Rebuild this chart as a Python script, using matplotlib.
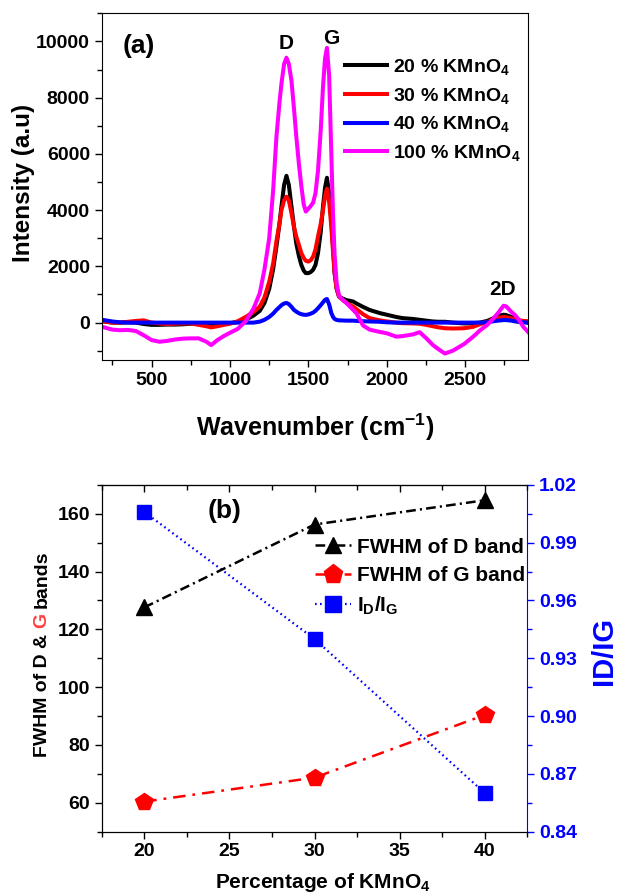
import matplotlib
matplotlib.use('Agg')
import matplotlib.pyplot as plt
from matplotlib.ticker import MultipleLocator, FixedLocator

plt.rcParams['font.family'] = ['Liberation Sans', 'DejaVu Sans']
plt.rcParams['font.weight'] = 'bold'
plt.rcParams['mathtext.fontset'] = 'custom'
plt.rcParams['mathtext.rm'] = 'Liberation Sans:bold'
plt.rcParams['mathtext.it'] = 'Liberation Sans:bold'
plt.rcParams['mathtext.bf'] = 'Liberation Sans:bold'
plt.rcParams['mathtext.default'] = 'regular'
plt.rcParams['lines.scale_dashes'] = False

# ---------------- Panel (a): Raman spectra ----------------
wavenumber = [185, 250, 300, 350, 400, 450, 500, 550, 600, 650, 700, 750, 800, 850, 880, 920, 960,
              1000, 1050, 1100, 1150, 1190, 1220, 1250, 1275, 1296, 1315, 1328, 1345, 1360, 1375,
              1392, 1408, 1423, 1440, 1455, 1470, 1483, 1500, 1515, 1530, 1545, 1561, 1578, 1593,
              1606, 1618, 1632, 1646, 1657, 1667, 1680, 1695, 1720, 1742, 1785, 1806, 1848, 1890,
              1954, 2000, 2060, 2100, 2166, 2209, 2250, 2294, 2330, 2370, 2420, 2493, 2550, 2593,
              2640, 2669, 2710, 2744, 2760, 2794, 2820, 2844, 2870, 2900]

int_20 = [50, 0, 0, 10, 0, -50, -80, -80, -70, -70, -60, -40, -50, -60, -70, -60, -40,
          -20, 20, 100, 250, 420, 700, 1200, 1900, 2700, 3500, 4130, 4900, 5220, 4900,
          4130, 3400, 2800, 2350, 2050, 1850, 1760, 1760, 1800, 1880, 2050, 2470, 3200, 4130,
          4800, 5150, 4600, 3650, 2700, 1760, 1200, 925, 850, 800, 750, 680, 560, 450,
          340, 280, 200, 160, 130, 100, 70, 40, 30, 30, 0, -30, -20, 0,
          60, 130, 240, 280, 270, 200, 140, 80, 30, 0]

int_30 = [50, 0, 0, 30, 60, 80, 0, -30, -50, -40, -30, -30, -80, -130, -170, -130, -80,
          -40, 50, 200, 380, 570, 900, 1450, 2100, 2900, 3500, 4000, 4350, 4480, 4350,
          3890, 3400, 3050, 2750, 2470, 2300, 2200, 2170, 2220, 2350, 2600, 3060, 3500, 4000,
          4500, 4760, 4300, 3400, 2500, 1760, 1200, 925, 800, 700, 570, 480, 300, 160,
          80, 40, 0, -20, -30, -40, -80, -130, -170, -200, -210, -200, -150, -60,
          20, 90, 160, 200, 190, 150, 110, 80, 60, 50]

int_40 = [100, 40, 10, 0, 0, 0, 0, 0, 0, 0, 0, 0, 0, 0, 0, 0, 0,
          0, 0, 0, 0, 35, 100, 200, 320, 450, 550, 620, 680, 700, 660,
          560, 450, 390, 330, 300, 280, 275, 290, 320, 355, 420, 510, 620, 720,
          810, 840, 650, 340, 200, 130, 95, 80, 75, 70, 70, 60, 50, 40,
          30, 10, 0, 0, 0, 0, 0, 0, 0, 0, 0, 0, 0, 0,
          10, 40, 70, 90, 90, 70, 40, 20, 10, 0]

int_100 = [-150, -250, -270, -260, -300, -450, -620, -680, -650, -600, -570, -560, -560, -680, -800, -620, -480,
           -360, -220, 50, 500, 1050, 1900, 3000, 4700, 6600, 7800, 8500, 9200, 9420, 9200,
           8600, 7600, 6600, 5600, 4850, 4200, 3950, 4050, 4150, 4270, 4600, 5400, 6800, 8400,
           9400, 9770, 8800, 6000, 3800, 2400, 1400, 950, 800, 700, 450, 330, -100, -250,
           -330, -380, -500, -480, -420, -340, -550, -800, -950, -1100, -1000, -760, -500, -280,
           -80, 80, 350, 600, 580, 380, 250, 80, -150, -330]

series_labels_a = ['20 % KMnO$_4$', '30 % KMnO$_4$', '40 % KMnO$_4$', '100 % KMnO$_4$']
series_colors_a = ['black', '#ff0000', '#0000ff', '#ff00ff']

# ---------------- Panel (b): FWHM and ID/IG ----------------
percentage = [20, 30, 40]
fwhm_D = [127.6, 156.3, 164.7]
fwhm_G = [60.4, 68.7, 90.4]
id_ig = [1.006, 0.940, 0.860]

fig = plt.figure(figsize=(6.17, 8.96), dpi=100)

# ---- (a)
axa = fig.add_axes([0.1648, 0.5982, 0.691, 0.387])
for y, lab, c in zip([int_20, int_30, int_40, int_100], series_labels_a, series_colors_a):
    axa.plot(wavenumber, y, color=c, lw=2.9, label=lab, solid_joinstyle='round')

axa.set_xlim(182, 2900)
axa.set_ylim(-1330, 11000)
axa.xaxis.set_major_locator(FixedLocator([500, 1000, 1500, 2000, 2500]))
axa.xaxis.set_minor_locator(MultipleLocator(250))
axa.yaxis.set_major_locator(FixedLocator([0, 2000, 4000, 6000, 8000, 10000]))
axa.yaxis.set_minor_locator(MultipleLocator(1000))
axa.tick_params(which='major', direction='out', length=5, width=1, labelsize=14)
axa.tick_params(which='minor', direction='out', length=3.5, width=1)

axa.set_xlabel('Wavenumber (cm$^{\\mathbf{-1}}$)', fontsize=18, fontweight='bold')
axa.set_ylabel('Intensity (a.u)', fontsize=17.5, fontweight='bold')
axa.xaxis.label.set_va('center')
axa.yaxis.label.set_va('center')
axa.xaxis.set_label_coords(0.5, -0.193)
axa.yaxis.set_label_coords(-0.183, 0.51)

axa.text(0.087, 0.906, '(a)', transform=axa.transAxes, fontsize=19, fontweight='bold',
         ha='center', va='center')
axa.text(1360, 9920, 'D', fontsize=15, fontweight='bold', ha='center', va='center')
axa.text(1646, 10100, 'G', fontsize=15, fontweight='bold', ha='center', va='center')
axa.text(2737, 1180, '2D', fontsize=15, fontweight='bold', ha='center', va='center')

axa.legend(loc='upper left', bbox_to_anchor=(0.571, 0.874), frameon=False, fontsize=14,
           handlelength=2.15, handletextpad=0.3, labelspacing=0.45, borderpad=0, borderaxespad=0)

# ---- (b)
axb = fig.add_axes([0.1648, 0.0718, 0.690, 0.387])
l1, = axb.plot(percentage, fwhm_D, color='black', lw=1.8, dashes=[7, 3, 1.5, 3],
               marker='^', markersize=11, label='FWHM of D band')
l2, = axb.plot(percentage, fwhm_G, color='#ff0000', lw=1.8, dashes=[9, 5, 2, 5],
               marker='p', markersize=13, label='FWHM of G band')
axb.set_xlim(17.5, 42.5)
axb.set_ylim(50, 170)
axb.xaxis.set_major_locator(FixedLocator([20, 25, 30, 35, 40]))
axb.xaxis.set_minor_locator(MultipleLocator(2.5))
axb.yaxis.set_major_locator(FixedLocator([60, 80, 100, 120, 140, 160]))
axb.yaxis.set_minor_locator(MultipleLocator(10))
axb.tick_params(which='major', direction='out', length=5, width=1, labelsize=14)
axb.tick_params(which='minor', direction='out', length=3.5, width=1)
axb.spines['right'].set_visible(False)

sec = axb.secondary_xaxis('top')
sec.xaxis.set_major_locator(FixedLocator([20, 25, 30, 35, 40]))
sec.xaxis.set_minor_locator(MultipleLocator(2.5))
sec.tick_params(which='major', direction='in', length=5, width=1, labeltop=False)
sec.tick_params(which='minor', direction='in', length=3.5, width=1)

axb2 = axb.twinx()
l3, = axb2.plot(percentage, id_ig, color='#0000ff', lw=1.6, dashes=[1.2, 2.4],
                marker='s', markersize=10, label='I$_D$/I$_G$')
axb2.set_ylim(0.84, 1.02)
axb2.yaxis.set_major_locator(FixedLocator([0.84, 0.87, 0.90, 0.93, 0.96, 0.99, 1.02]))
axb2.yaxis.set_minor_locator(MultipleLocator(0.015))
axb2.yaxis.set_major_formatter(matplotlib.ticker.FormatStrFormatter('%.2f'))
axb2.tick_params(which='major', direction='out', length=5, width=1, labelsize=14,
                 colors='#0000ff')
axb2.tick_params(which='minor', direction='out', length=3.5, width=1, colors='#0000ff')
axb2.spines['right'].set_color('#0000ff')
axb2.set_ylabel('ID/IG', fontsize=21, fontweight='bold', color='#0000ff')
axb2.yaxis.label.set_va('center')
axb2.yaxis.set_label_coords(1.18, 0.52)

axb.set_xlabel('Percentage of KMnO$_4$', fontsize=15, fontweight='bold')
axb.xaxis.label.set_va('center')
axb.xaxis.set_label_coords(0.52, -0.148)

# multi-coloured y label
t1 = axb.text(-0.140, 0.215, 'FWHM of D &', transform=axb.transAxes, rotation=90,
              fontsize=14, fontweight='bold', ha='center', va='bottom')
t2 = axb.annotate('G', xy=(0.5, 1), xycoords=t1, xytext=(0, 4), textcoords='offset points',
                  rotation=90, fontsize=14, fontweight='bold', color='#ff4040',
                  ha='center', va='bottom')
t3 = axb.annotate('bands', xy=(0.5, 1), xycoords=t2, xytext=(0, 4), textcoords='offset points',
                  rotation=90, fontsize=14, fontweight='bold', color='black',
                  ha='center', va='bottom')

axb.text(0.288, 0.926, '(b)', transform=axb.transAxes, fontsize=19, fontweight='bold',
         ha='center', va='center')

axb.legend(handles=[l1, l2, l3], loc='upper left', bbox_to_anchor=(0.501, 0.848),
           frameon=False, fontsize=15, handlelength=1.75, handletextpad=0.25,
           labelspacing=0.45, borderpad=0, borderaxespad=0, numpoints=1, markerscale=1.1)
axb.set_zorder(axb2.get_zorder() + 1)
axb.patch.set_visible(False)

fig.savefig('out.png', dpi=100)
